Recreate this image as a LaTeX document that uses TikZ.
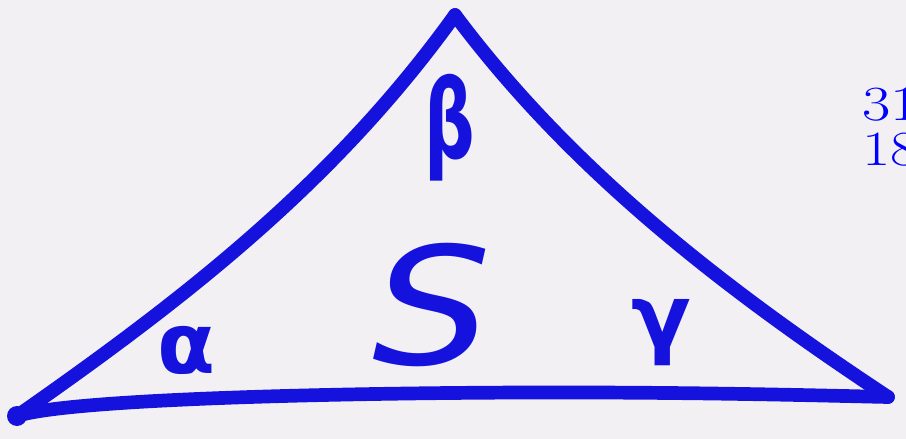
\documentclass[tikz,border=0pt]{standalone}
\usepackage{fontspec}
\newfontfamily\handfont{DejaVu Sans}
\definecolor{pen}{RGB}{22,18,222}
\definecolor{paper}{RGB}{242,240,242}
\definecolor{typed}{RGB}{0,0,255}
\begin{document}
\begin{tikzpicture}[x=0.02cm,y=-0.02cm,
  edge/.style={draw=pen,line width=7.8pt,line cap=round,line join=round},
  letter/.style={text=pen,inner sep=0pt,anchor=center},
  typedtext/.style={text=typed,inner sep=0pt,anchor=base west,font=\fontsize{28}{34}\selectfont}]
\fill[paper] (0,0) rectangle (906,439);
\useasboundingbox (0,0) rectangle (906,439);
\begin{scope}
\clip (0,0) rectangle (906,439);
\coordinate (A) at (17,416);
\coordinate (B) at (455,15);
\coordinate (C) at (888,397);
\coordinate (M) at (450,393);
\draw[edge] (A) .. controls (186,298) and (335,182) .. (B);
\draw[edge] (B) .. controls (565,162) and (709,279) .. (C);
\draw[edge] (C) .. controls (800,395) and (650,391) .. (M)
                .. controls (250,395) and (60,402) .. (A);
\fill[pen] (A) circle (10);
\node[letter,font=\handfont\bfseries\fontsize{48}{52}\selectfont] (alpha) at (186,350) {α};
\node[letter,font=\handfont\bfseries\fontsize{62}{66}\selectfont] (beta) at (450,128) {\scalebox{0.65}[1]{β}};
\node[letter,font=\handfont\itshape\fontsize{93}{96}\selectfont] (S) at (432,305) {\scalebox{1.15}[1]{S}};
\node[letter,font=\handfont\bfseries\fontsize{50}{54}\selectfont] (gamma) at (661,333) {γ};
\node[typedtext] (t1) at (862,121) {\scalebox{1.25}[1]{31}};
\node[typedtext] (t2) at (862,165) {\scalebox{1.25}[1]{18}};
\end{scope}
\end{tikzpicture}
\end{document}
